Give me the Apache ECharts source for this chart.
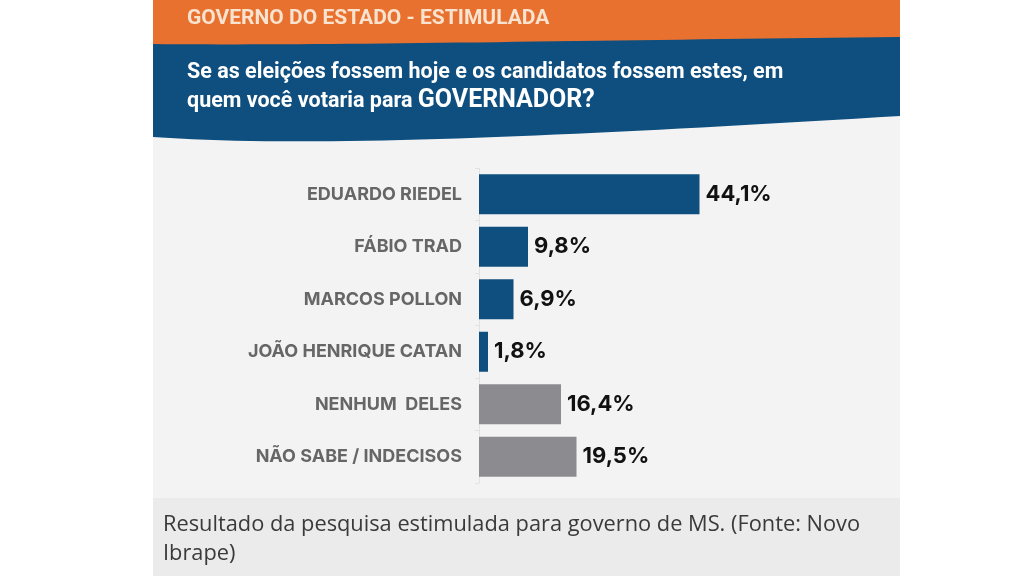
<!DOCTYPE html>
<html>
<head>
<meta charset="utf-8">
<script src="https://cdn.jsdelivr.net/npm/echarts@6/dist/echarts.min.js"></script>
<style>
  html, body { margin: 0; padding: 0; background: #ffffff; }
  #chart { width: 1024px; height: 576px; }
</style>
</head>
<body>
<div id="chart"></div>
<script>
// Poll data (Novo Ibrape) - stimulated vote for governor of MS
const candidates = [
  'EDUARDO RIEDEL',
  'FÁBIO TRAD',
  'MARCOS POLLON',
  'JOÃO HENRIQUE CATAN',
  'NENHUM  DELES',
  'NÃO SABE / INDECISOS'
];
const percentages = [44.1, 9.8, 6.9, 1.8, 16.4, 19.5];
const isCandidate = [true, true, true, true, false, false];

const headerTitle = 'GOVERNO DO ESTADO - ESTIMULADA';
const questionLine1 = 'Se as eleições fossem hoje e os candidatos fossem estes, em';
const questionLine2 = 'quem você votaria para ';
const questionStrong = 'GOVERNADOR?';
const captionText = 'Resultado da pesquisa estimulada para governo de MS. (Fonte: Novo\nIbrape)';

const BLUE = '#0e4f7f';
const GREY_BAR = '#8c8c90';
const ORANGE = '#e9712f';

const chart = echarts.init(document.getElementById('chart'));

// wavy bottom edge of the blue header band (decoration only)
function bezier(p0, p1, p2, p3, t) {
  const u = 1 - t;
  return u * u * u * p0 + 3 * u * u * t * p1 + 3 * u * t * t * p2 + t * t * t * p3;
}
const bandPoints = [];
for (let i = 0; i <= 40; i++) {
  const t = i / 40;
  bandPoints.push([bezier(153, 320, 600, 900, t), bezier(44, 46, 40, 37, t)]);
}
for (let i = 40; i >= 0; i--) {
  const t = i / 40;
  bandPoints.push([bezier(153, 320, 600, 900, t), bezier(137, 149, 134, 116, t)]);
}

const option = {
  backgroundColor: '#ffffff',
  animation: false,
  graphic: [
    { type: 'rect', z: -10, shape: { x: 153, y: 0, width: 747, height: 576 }, style: { fill: '#f3f3f3' } },
    { type: 'rect', z: -9, shape: { x: 153, y: 498, width: 747, height: 78 }, style: { fill: '#ebebeb' } },
    { type: 'rect', z: -8, shape: { x: 153, y: 0, width: 747, height: 60 }, style: { fill: ORANGE } },
    { type: 'polygon', z: -7, shape: { points: bandPoints }, style: { fill: BLUE } },
    {
      type: 'text', left: 187, top: 8,
      style: {
        text: headerTitle, fill: '#f7e3cf',
        font: 'bold 21px Roboto, "Liberation Sans", sans-serif'
      }
    },
    {
      type: 'text', left: 187, top: 62,
      style: {
        text: questionLine1, fill: '#ffffff',
        font: 'bold 21.5px Roboto, "Liberation Sans", sans-serif'
      }
    },
    {
      type: 'text', left: 187, top: 88,
      style: {
        text: '{a|' + questionLine2 + '}{b|' + questionStrong + '}',
        rich: {
          a: { fill: '#ffffff', fontSize: 21.5, fontWeight: 'bold', fontFamily: 'Roboto', verticalAlign: 'bottom' },
          b: { fill: '#ffffff', fontSize: 25, fontWeight: 'bold', fontFamily: 'Roboto', verticalAlign: 'bottom' }
        }
      }
    },
    {
      type: 'text', left: 163, top: 510,
      style: {
        text: captionText, fill: '#3a3a3a', lineHeight: 29,
        font: '21.8px "Open Sans", Lato, sans-serif'
      }
    }
  ],
  grid: { left: 479, top: 168, width: 300, height: 315, containLabel: false },
  xAxis: {
    type: 'value', min: 0, max: 60, show: false
  },
  yAxis: {
    type: 'category',
    inverse: true,
    data: candidates,
    axisLine: { show: true, lineStyle: { color: '#e2e2e2', width: 1 } },
    axisTick: { show: true, length: 4, lineStyle: { color: '#e2e2e2' } },
    axisLabel: {
      margin: 17,
      color: '#666666',
      fontSize: 18,
      fontWeight: 'bold',
      fontFamily: 'Inter, sans-serif'
    }
  },
  series: [
    {
      type: 'bar',
      barWidth: 40,
      data: percentages.map((v, i) => ({
        value: v,
        itemStyle: { color: isCandidate[i] ? BLUE : GREY_BAR }
      })),
      label: {
        show: true,
        position: 'right',
        distance: 6,
        color: '#111111',
        fontSize: 22,
        fontWeight: 'bold',
        fontFamily: 'Inter, sans-serif',
        formatter: p => p.value.toFixed(1).replace('.', ',') + '%'
      }
    }
  ]
};

chart.setOption(option);
</script>
</body>
</html>
